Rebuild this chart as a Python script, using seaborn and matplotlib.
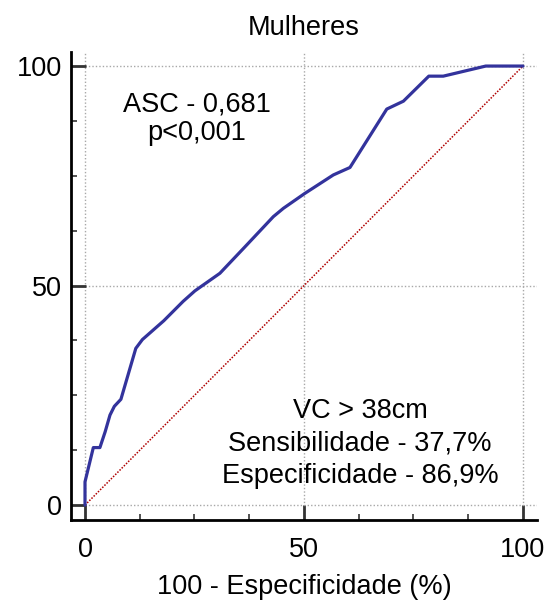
import numpy as np
import pandas as pd
import seaborn as sns
import matplotlib.pyplot as plt
from matplotlib.ticker import MultipleLocator

# Curva ROC - mulheres
fpr = [0, 0, 1.9, 3.4, 4.6, 5.7, 6.7, 8.2, 11.6, 13.1, 18.0, 22.4, 25.1, 30.8,
       36.5, 43.0, 45.3, 50.2, 56.7, 60.5, 68.9, 72.7, 78.5, 81.8, 91.5, 100]
tpr = [0, 5.3, 13.1, 13.1, 16.7, 20.5, 22.5, 24.1, 35.7, 37.7, 42.0, 46.4, 48.8, 52.8,
       58.8, 65.7, 67.6, 71.0, 75.2, 76.9, 90.2, 92.0, 97.7, 97.7, 100, 100]
diag = [0, 100]
ticks = [0, 50, 100]

titulo = "Mulheres"
xlabel = "100 - Especificidade (%)"
texto_asc = ["ASC - 0,681", "p<0,001"]
texto_vc = ["VC > 38cm", "Sensibilidade - 37,7%", "Especificidade - 86,9%"]

sns.set_style("white")
plt.rcParams["font.family"] = ["Liberation Sans", "DejaVu Sans"]
plt.rcParams["text.color"] = "black"
plt.rcParams["axes.labelcolor"] = "black"
plt.rcParams["xtick.labelcolor"] = "black"
plt.rcParams["ytick.labelcolor"] = "black"

fs = 19.5

fig = plt.figure(figsize=(5.52, 6.09), dpi=100)
ax = fig.add_axes([0.1286, 0.1461, 0.9728 - 0.1286, 0.9146 - 0.1461])

df = pd.DataFrame({"x": fpr, "y": tpr})
sns.lineplot(data=df, x="x", y="y", sort=False, estimator=None, ax=ax,
             color="#33339c", linewidth=2.3, zorder=3)
sns.lineplot(x=diag, y=diag, ax=ax, color="#b00000", linewidth=1.1,
             linestyle=(0, (1, 1)), zorder=2)

ax.set_xlim(-3.2, 103.2)
ax.set_ylim(-3.4, 103.2)
ax.set_xticks(ticks)
ax.set_yticks(ticks)
ax.xaxis.set_minor_locator(MultipleLocator(12.5))
ax.yaxis.set_minor_locator(MultipleLocator(12.5))
ax.grid(True, which="major", color="#a8a8a8", linestyle=(0, (1, 1.5)), linewidth=1.0)

for s in ["top", "right"]:
    ax.spines[s].set_visible(False)
for s in ["left", "bottom"]:
    ax.spines[s].set_color("black")
    ax.spines[s].set_linewidth(2.0)

ax.tick_params(which="major", direction="in", length=10.5, width=2.0, color="#333333",
               labelsize=fs, left=True, bottom=True)
ax.tick_params(which="minor", direction="in", length=4.5, width=1.2, color="#333333",
               left=True, bottom=True)
ax.tick_params(axis="x", which="major", pad=12.5)
ax.tick_params(axis="y", which="major", pad=6.5)

ax.set_title(titulo, fontsize=fs, pad=12)
ax.set_xlabel(xlabel, fontsize=fs, labelpad=8)
ax.set_ylabel("")

ax.text(25.6, 89.7, texto_asc[0], fontsize=fs, ha="center", va="baseline")
ax.text(25.6, 83.1, texto_asc[1], fontsize=fs, ha="center", va="baseline")
ax.text(62.8, 19.8, texto_vc[0], fontsize=fs, ha="center", va="baseline")
ax.text(62.8, 12.5, texto_vc[1], fontsize=fs, ha="center", va="baseline")
ax.text(62.8, 5.0, texto_vc[2], fontsize=fs, ha="center", va="baseline")

fig.savefig("out.png", dpi=100)
plt.close(fig)
